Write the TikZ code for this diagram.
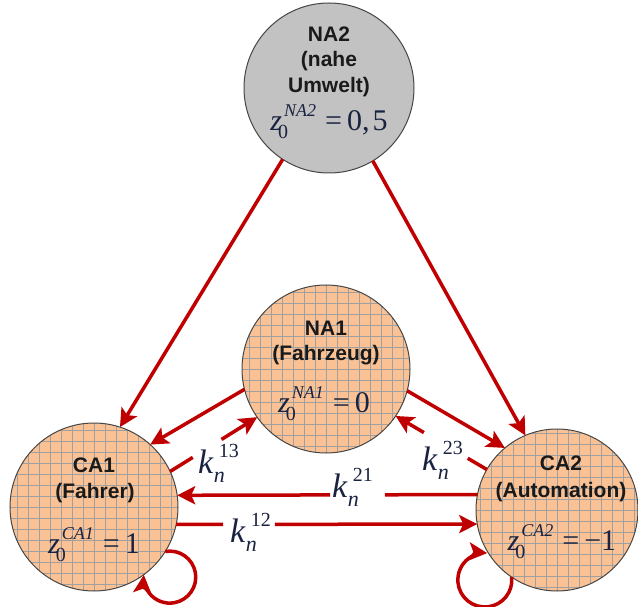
\documentclass[tikz,border=0pt]{standalone}
\usepackage{fontspec}
\newfontfamily\lsb{Liberation Sans}
\newfontfamily\tms{Liberation Serif}
\usetikzlibrary{arrows.meta,calc}
\definecolor{cred}{RGB}{192,0,0}
\definecolor{cpeach}{RGB}{250,194,148}
\definecolor{cgrid}{RGB}{160,160,160}
\definecolor{cgrayfill}{RGB}{194,194,194}
\definecolor{cedge}{RGB}{70,70,70}
\definecolor{cmath}{RGB}{25,35,65}
\definecolor{ctext}{RGB}{26,26,26}
\newcommand{\zsym}[2]{\textit{z}\rlap{\hspace{-4pt}\raisebox{-8pt}{\fontsize{20}{20}\selectfont 0}}\hspace{2pt}\raisebox{14pt}{\fontsize{18}{18}\selectfont\itshape #1}\hspace{9pt}=\hspace{5pt}#2}
\newcommand{\kk}[1]{\textit{k}\rlap{\hspace{0pt}\raisebox{-9pt}{\fontsize{22}{22}\selectfont\itshape n}}\hspace{5pt}\raisebox{16pt}{\fontsize{20}{20}\selectfont #1}}
\tikzset{
  agent/.style={circle, draw=cedge, line width=1pt, inner sep=0pt, outer sep=0pt, minimum size=#1},
  peach/.style={agent=#1, fill=cpeach, path picture={\draw[cgrid,line width=0.9pt] (path picture bounding box.south west) grid[step=11pt] (path picture bounding box.north east);}},
  grayc/.style={agent=#1, fill=cgrayfill},
  conn/.style={draw=cred, line width=3.5pt, -{Stealth[length=18pt,width=18pt,inset=4pt]}},
  seg/.style={draw=cred, line width=3.5pt},
  lbl/.style={font=\lsb\bfseries\fontsize{21}{21}\selectfont, text=ctext, anchor=base, inner sep=0pt},
  mlbl/.style={text=cmath, anchor=base, inner sep=0pt, font=\tms\fontsize{30}{30}\selectfont},
  klbl/.style={text=cmath, anchor=base west, inner sep=0pt, font=\tms\fontsize{34}{34}\selectfont},
}
\begin{document}
\begin{tikzpicture}[x=1pt,y=1pt]
\useasboundingbox (0,0) rectangle (638,-607);
% circles
\node[grayc=170pt] (NA2) at (329,-88) {};
\node[peach=168pt] (NA1) at (326,-369) {};
\node[peach=168pt] (CA1) at (94,-507) {};
\node[peach=162pt] (CA2) at (557,-510) {};
% texts
\node[lbl] (NA2a) at (329,-42) {NA2};
\node[lbl] (NA2b) at (329,-67) {(nahe};
\node[lbl] (NA2c) at (329,-93) {Umwelt)};
\node[mlbl] (NA2m) at (329,-131) {\zsym{NA2}{0,\hspace{3pt}5}};
\node[lbl] (NA1a) at (326,-335) {NA1};
\node[lbl] (NA1b) at (326,-360) {(Fahrzeug)};
\node[mlbl] (NA1m) at (324,-412) {\zsym{NA1}{0}};
\node[lbl] (CA1a) at (94,-472) {CA1};
\node[lbl] (CA1b) at (95,-498) {(Fahrer)};
\node[mlbl] (CA1m) at (94,-553) {\zsym{CA1}{1}};
\node[lbl] (CA2a) at (561,-470) {CA2};
\node[lbl] (CA2b) at (561,-497) {(Automation)};
\node[mlbl] (CA2m) at (562,-550) {\zsym{CA2}{−1}};
% connectors
\draw[conn] (NA2.237.4) -- (CA1.72.4);
\draw[conn] (NA2.-59.3) -- (CA2.113.6);
\draw[conn] (NA1.194) -- (CA1.48.8);
\draw[conn] (NA1.-15.7) -- (CA2.130.7);
\draw[seg] (CA1.25.6) -- ($(CA1.25.6)!0.26!(NA1.215.7)$);
\draw[conn] ($(CA1.25.6)!0.59!(NA1.215.7)$) -- (NA1.215.7);
\draw[seg] (CA2.150.6) -- ($(CA2.150.6)!0.21!(NA1.-34.6)$);
\draw[conn] ($(CA2.150.6)!0.69!(NA1.-34.6)$) -- (NA1.-34.6);
\draw[seg] (CA2.169.3) -- ($(CA2.169.3)!0.308!(CA1.8.2)$);
\draw[conn] ($(CA2.169.3)!0.491!(CA1.8.2)$) -- (CA1.8.2);
\draw[seg] (CA1.-12.4) -- ($(CA1.-12.4)!0.156!(CA2.190.7)$);
\draw[conn] ($(CA1.-12.4)!0.328!(CA2.190.7)$) -- (CA2.190.7);
\draw[conn] (CA1.-32.4) arc[start angle=100, end angle=-185, radius=26pt];
\draw[conn] (CA2.236) arc[start angle=6, end angle=-275, radius=27pt];
% k labels
\node[klbl] (k13) at (198,-473) {\kk{13}};
\node[klbl] (k21) at (332,-497) {\kk{21}};
\node[klbl] (k23) at (422,-470) {\kk{23}};
\node[klbl] (k12) at (230,-542) {\kk{12}};
\end{tikzpicture}
\end{document}
